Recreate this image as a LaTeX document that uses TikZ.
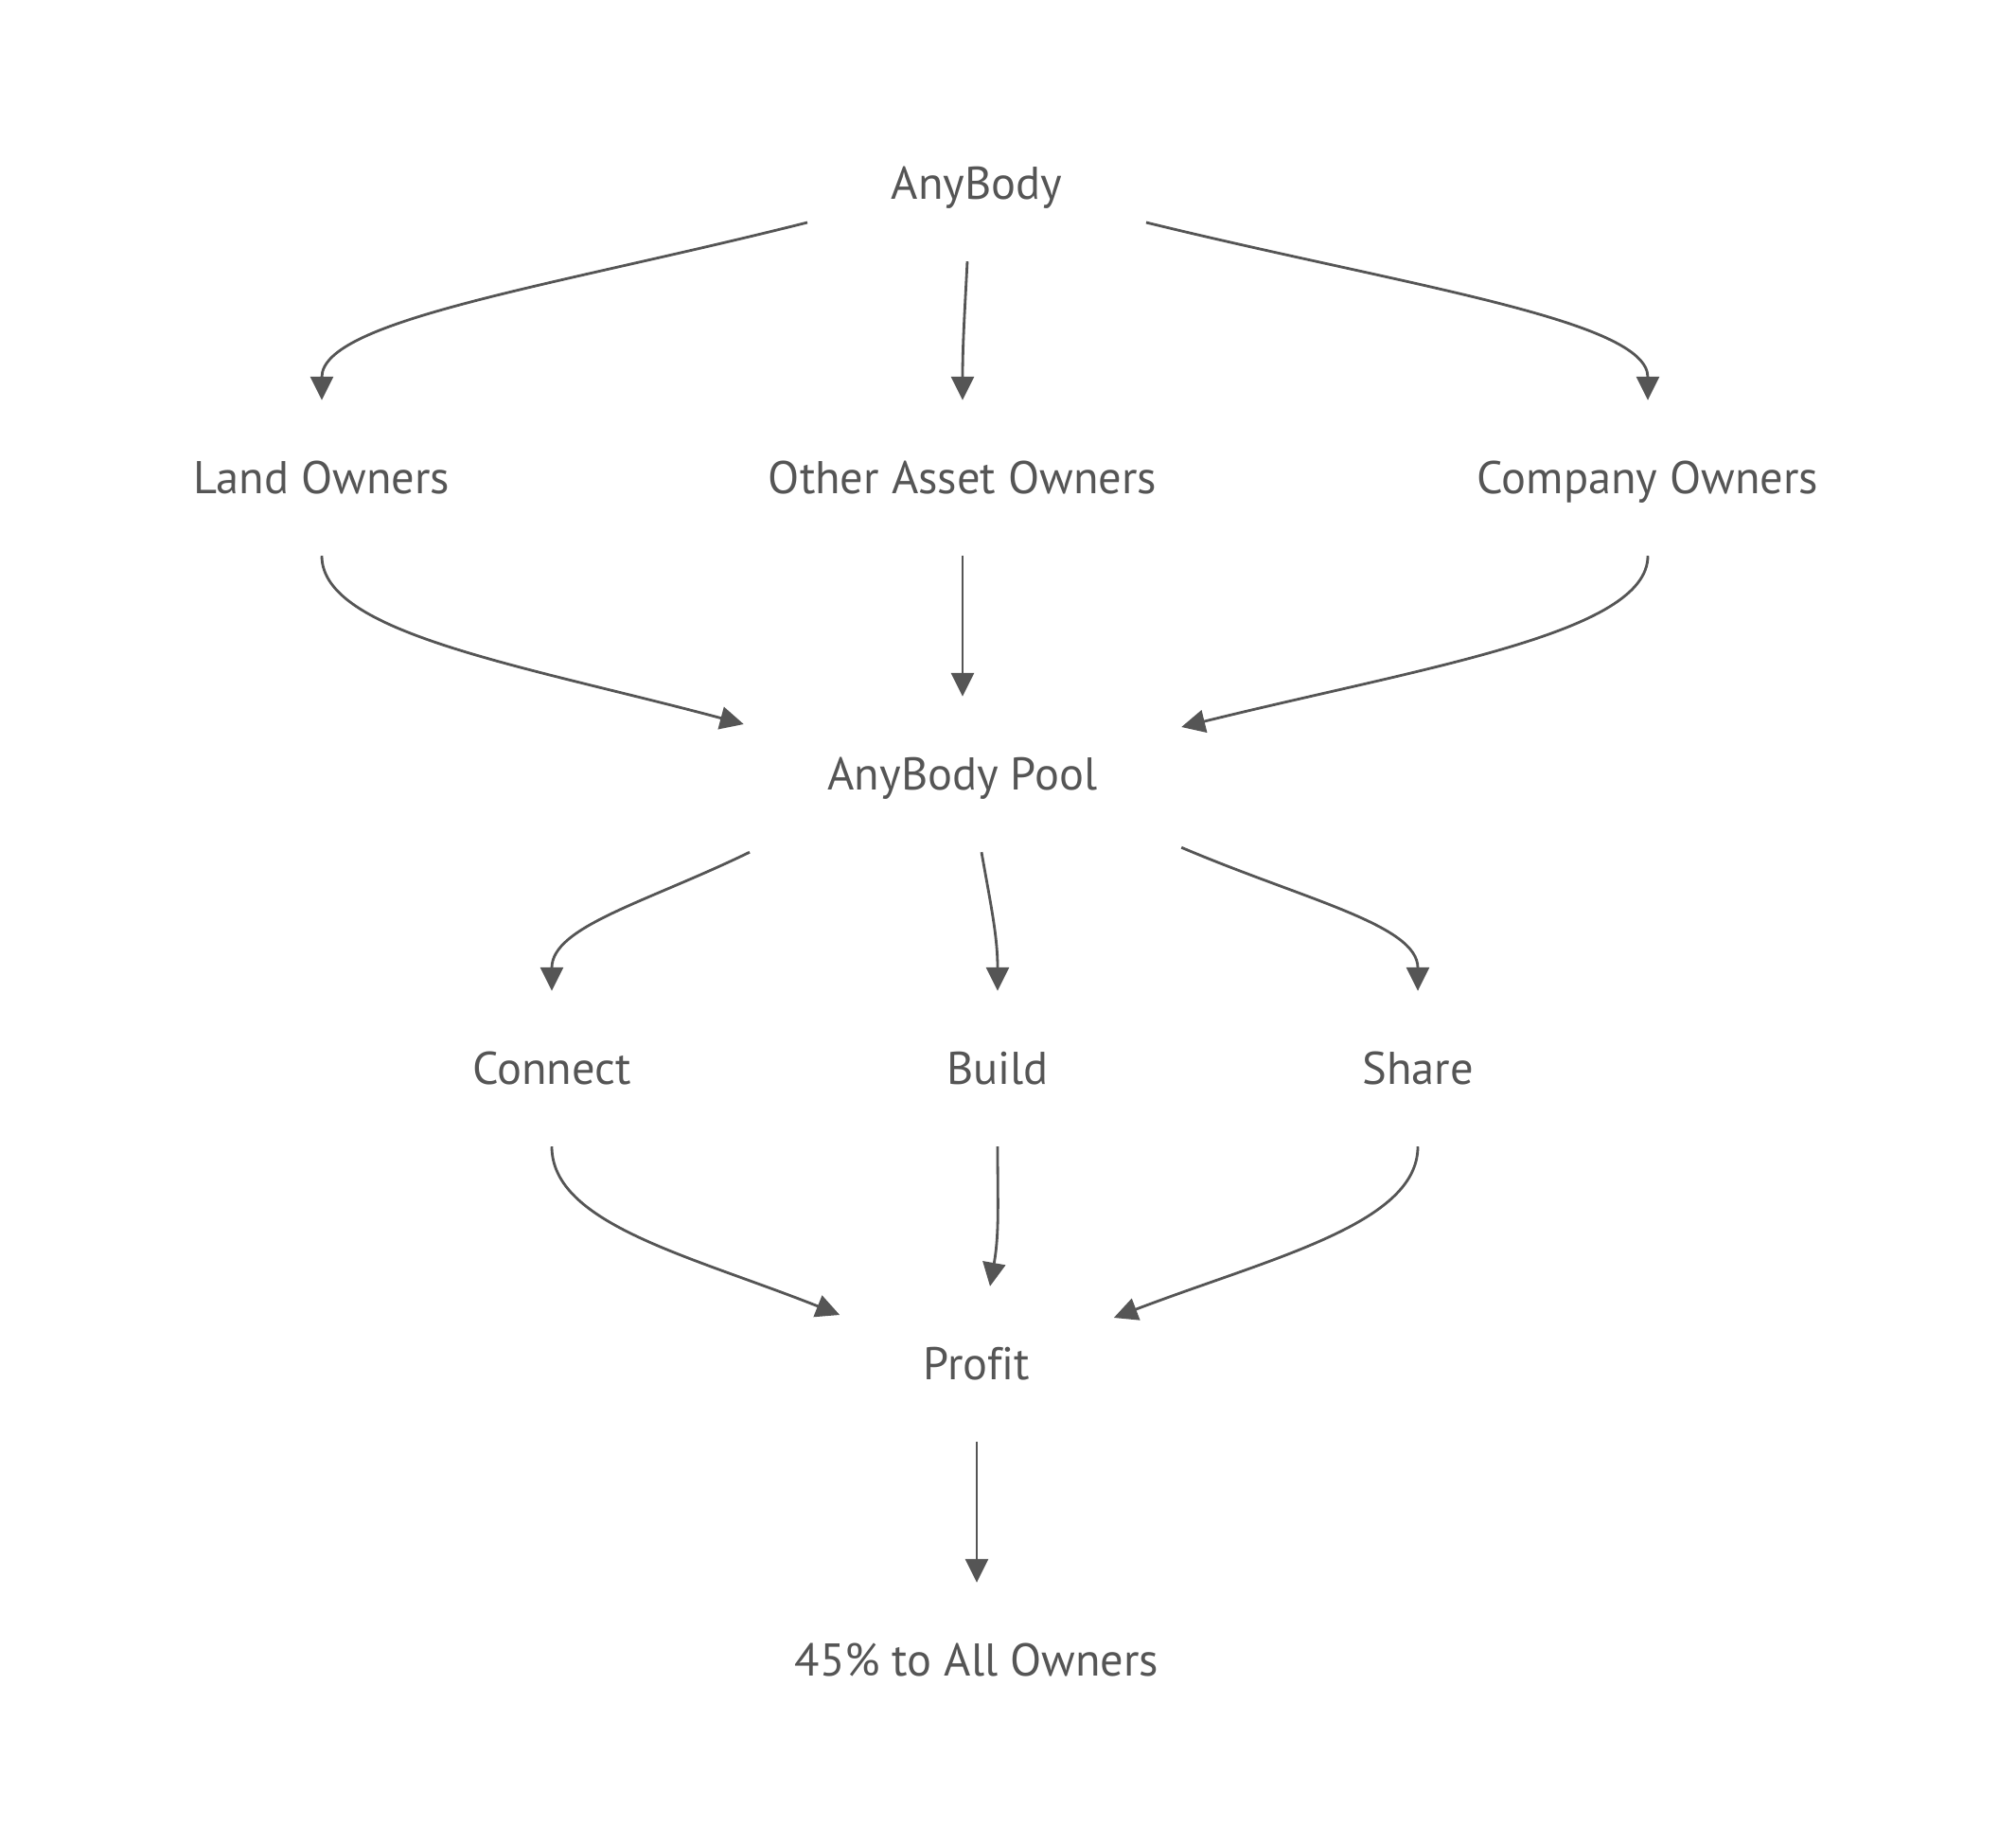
\documentclass[tikz,border=0pt]{standalone}
\usepackage{fontspec}
\setmainfont{PT Sans}[Ligatures=NoCommon]
\usetikzlibrary{positioning,arrows.meta}
\definecolor{inkgray}{HTML}{555555}

\begin{document}
\begin{tikzpicture}[node distance=3.12cm, on grid,
        box/.style={inner xsep=0.88cm, minimum height=1.63cm,
                    text height=9.6pt, text depth=0pt, text=inkgray,
                    font=\fontsize{13.8}{16}\selectfont},
        flow/.style={draw=inkgray, line width=0.8pt,
                     -{Triangle[width=0.24cm,length=0.25cm]}}]
  \useasboundingbox (0,0) rectangle (21.30,-19.48);
  % nodes
  \node[box] (any)                                   at (10.32,-1.94) {AnyBody};
  \node[box] (other)   [below left=3.11cm and 0.15cm of any]    {Other Asset Owners};
  \node[box] (land)    [left=6.77cm of other]                   {Land Owners};
  \node[box] (company) [right=7.24cm of other]                  {Company Owners};
  \node[box] (pool)    [below=3.13cm of other]                  {AnyBody Pool};
  \node[box] (build)   [below right=3.11cm and 0.37cm of pool]  {Build};
  \node[box] (connect) [left=4.71cm of build]                   {Connect};
  \node[box] (share)   [right=4.44cm of build]                  {Share};
  \node[box] (profit)  [below left=3.12cm and 0.22cm of build]  {Profit};
  \node[box] (all)     [below=3.13cm of profit]                 {45\% to All Owners};
  % owners
  \draw[flow] ([yshift=-0.41cm]any.west) .. controls +(-2.66,-0.67) and +(0,0.85) .. (land.north);
  \draw[flow] ([xshift=-0.1cm]any.south) to[out=-93, in=90] (other.north);
  \draw[flow] ([yshift=-0.41cm]any.east) .. controls +(2.74,-0.67) and +(0,0.85) .. (company.north);
  % into the pool
  \draw[flow] (land.south) .. controls +(0,-0.82) and +(-2.32,0.62) .. ([yshift=0.53cm]pool.west);
  \draw[flow] (other.south) -- (pool.north);
  \draw[flow] (company.south) .. controls +(0,-0.82) and +(2.55,0.63) .. ([yshift=0.5cm]pool.east);
  % uses
  \draw[flow] ([xshift=-2.25cm]pool.south) .. controls +(-1.09,-0.53) and +(0,0.68) .. (connect.north);
  \draw[flow] ([xshift=0.2cm]pool.south) to[out=-80, in=90] (build.north);
  \draw[flow] ([yshift=0.05cm]pool.south east) .. controls +(1.29,-0.55) and +(0,0.70) .. (share.north);
  % profit
  \draw[flow] (connect.south) .. controls +(0,-0.82) and +(-1.56,0.62) .. ([yshift=0.52cm]profit.west);
  \draw[flow] (build.south) to[out=-90, in=80] ([xshift=0.14cm]profit.north);
  \draw[flow] (share.south) .. controls +(0,-0.82) and +(1.65,0.63) .. ([yshift=0.49cm]profit.east);
  \draw[flow] (profit.south) -- (all.north);
\end{tikzpicture}
\end{document}
